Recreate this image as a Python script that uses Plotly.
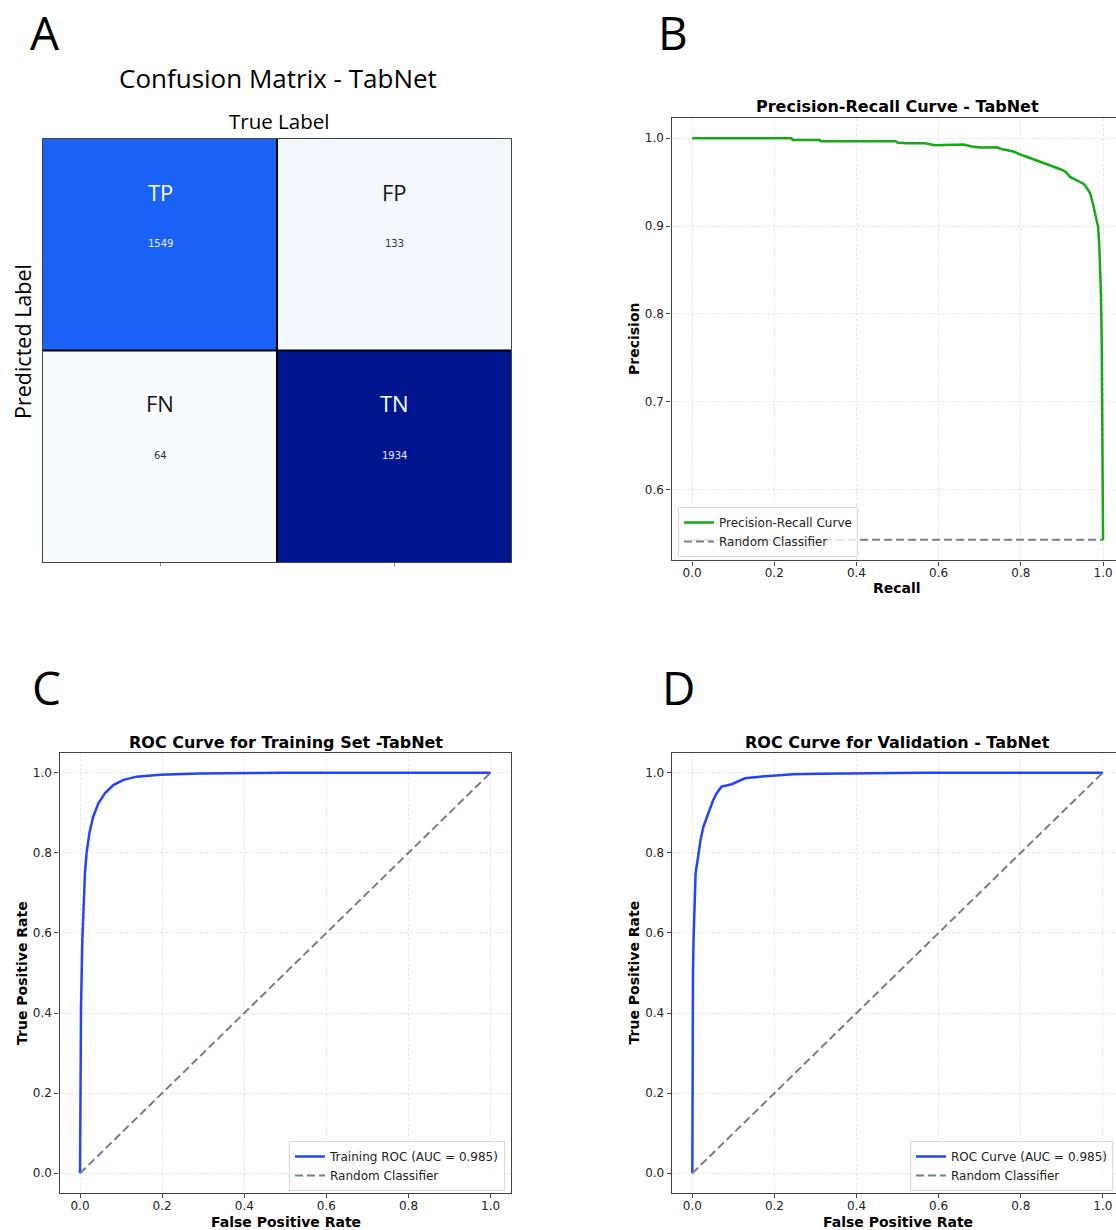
import plotly.graph_objects as go

W, H = 1116, 1230

# ---------------- data ----------------
cm_labels = [["TP", "FP"], ["FN", "TN"]]
cm_values = [[1549, 133], [64, 1934]]

pr_recall = [0.0, 0.242, 0.245, 0.311, 0.313, 0.352, 0.354, 0.42, 0.496, 0.499, 0.522, 0.567,
             0.591, 0.66, 0.681, 0.701, 0.742, 0.75, 0.782, 0.807, 0.831, 0.847, 0.872, 0.896,
             0.908, 0.920, 0.933, 0.953, 0.961, 0.969, 0.976, 0.981, 0.988, 0.991, 0.9935, 0.995,
             0.9967, 0.998, 0.999, 1.0]
pr_precision = [1.0, 1.0, 0.998, 0.998, 0.9966, 0.9966, 0.9958, 0.9962, 0.9965, 0.995, 0.9943, 0.9943,
                0.992, 0.9928, 0.9905, 0.9894, 0.9897, 0.988, 0.9848, 0.980, 0.976, 0.974, 0.969, 0.9647,
                0.962, 0.956, 0.9525, 0.948, 0.943, 0.937, 0.924, 0.9126, 0.899, 0.8765, 0.846, 0.82,
                0.77, 0.702, 0.649, 0.5423]
pr_baseline = 0.5429
baseline_x = [0.0, 1.0]

fpr_train = [0.0, 0.0016, 0.0024, 0.0057, 0.008, 0.012, 0.016, 0.023, 0.032, 0.045, 0.061, 0.081,
             0.106, 0.138, 0.195, 0.292, 0.5, 1.0]
tpr_train = [0.0, 0.25, 0.417, 0.583, 0.666, 0.75, 0.80, 0.85, 0.89, 0.924, 0.949, 0.969,
             0.982, 0.990, 0.995, 0.998, 0.9995, 1.0]

fpr_val = [0.0, 0.0005, 0.0016, 0.003, 0.005, 0.008, 0.014, 0.020, 0.027, 0.039, 0.051, 0.059,
           0.071, 0.096, 0.112, 0.128, 0.165, 0.206, 0.246, 0.311, 0.40, 0.555, 1.0]
tpr_val = [0.0, 0.25, 0.50, 0.583, 0.666, 0.749, 0.79, 0.832, 0.865, 0.899, 0.932, 0.948,
           0.965, 0.971, 0.978, 0.986, 0.99, 0.993, 0.996, 0.9975, 0.998, 1.0, 1.0]

diag = [0.0, 1.0]
ticks01 = [0.0, 0.2, 0.4, 0.6, 0.8, 1.0]
ticks_prec = [0.6, 0.7, 0.8, 0.9, 1.0]

# ---------------- helpers ----------------
def px(x):
    return x / W

def py(y):
    return 1 - y / H

MPL = "DejaVu Sans"
MYR = "Open Sans"
GREEN = "#17a817"
BLUE = "#2443ff"
GRAYD = "#708090"
SPINE = "#444444"
GRID = "#e8e8e8"

fig = go.Figure()

# ---- Panel A heatmap ----
vmin = min(min(r) for r in cm_values)
vmax = max(max(r) for r in cm_values)
def pos(v):
    return (v - vmin) / (vmax - vmin)
cscale = [[0.0, "#f7fbff"], [pos(133), "#f2f8fd"], [pos(1549), "#1a62f5"], [1.0, "#00168e"]]
fig.add_trace(go.Heatmap(z=cm_values, x=[0, 1], y=[0, 1], colorscale=cscale, showscale=False,
                         zmin=vmin, zmax=vmax, xaxis="x", yaxis="y", hoverinfo="skip"))

# ---- Panel B ----
fig.add_trace(go.Scatter(x=pr_recall, y=pr_precision, mode="lines", name="Precision-Recall Curve",
                         line=dict(color=GREEN, width=2.5), xaxis="x2", yaxis="y2", legend="legend"))
fig.add_trace(go.Scatter(x=baseline_x, y=[pr_baseline, pr_baseline], mode="lines", name="Random Classifier",
                         line=dict(color=GRAYD, width=2, dash="8px,4px"), xaxis="x2", yaxis="y2",
                         legend="legend"))

# ---- Panel C ----
fig.add_trace(go.Scatter(x=fpr_train, y=tpr_train, mode="lines", name="Training ROC (AUC = 0.985)",
                         line=dict(color=BLUE, width=2.5), xaxis="x3", yaxis="y3", legend="legend2"))
fig.add_trace(go.Scatter(x=diag, y=diag, mode="lines", name="Random Classifier",
                         line=dict(color=GRAYD, width=2, dash="8px,4px"), xaxis="x3", yaxis="y3",
                         legend="legend2"))

# ---- Panel D ----
fig.add_trace(go.Scatter(x=fpr_val, y=tpr_val, mode="lines", name="ROC Curve (AUC = 0.985)",
                         line=dict(color=BLUE, width=2.5), xaxis="x4", yaxis="y4", legend="legend3"))
fig.add_trace(go.Scatter(x=diag, y=diag, mode="lines", name="Random Classifier",
                         line=dict(color=GRAYD, width=2, dash="8px,4px"), xaxis="x4", yaxis="y4",
                         legend="legend3"))

def mpl_axis(domain, rng, tickvals, mirror, standoff=0):
    return dict(domain=domain, range=rng, tickvals=tickvals, ticktext=[f"{t:.1f}" for t in tickvals],
                showline=True, linecolor=SPINE, linewidth=1.3, mirror=mirror, ticks="outside",
                ticklen=4, tickwidth=1, tickcolor=SPINE, showgrid=True, gridcolor=GRID,
                griddash="3px,2px", gridwidth=1, zeroline=False, ticklabelstandoff=standoff,
                tickfont=dict(family=MPL, size=12, color="#222222"), fixedrange=True)

layout = dict(
    width=W, height=H, margin=dict(l=0, r=0, t=0, b=0),
    paper_bgcolor="white", plot_bgcolor="white", showlegend=True,
    xaxis=dict(domain=[px(43), px(511)], range=[-0.5, 1.5], showline=True, linecolor=SPINE, linewidth=1,
               mirror=True, ticks="outside", ticklen=3, tickcolor="#888888", tickvals=[0, 1],
               showticklabels=False, showgrid=False, zeroline=False),
    yaxis=dict(domain=[py(562), py(139)], range=[1.5, -0.5], showline=True, linecolor=SPINE, linewidth=1,
               mirror=True, ticks="", showticklabels=False, showgrid=False, zeroline=False),
    xaxis2=mpl_axis([px(671.5), 1.0], [-0.05, 1.0315], ticks01, True, -3),
    yaxis2=mpl_axis([py(560.4), py(118.1)], [0.5194, 1.0229], ticks_prec, False),
    xaxis3=mpl_axis([px(59.5), px(511.2)], [-0.05, 1.05], ticks01, True, -3),
    yaxis3=mpl_axis([py(1193.3), py(752.6)], [-0.05, 1.05], ticks01, True),
    xaxis4=mpl_axis([px(671.8), 1.0], [-0.05, 1.032], ticks01, True, -3),
    yaxis4=mpl_axis([py(1193.3), py(752.6)], [-0.05, 1.05], ticks01, False),
)
layout["yaxis2"]["anchor"] = "x2"
layout["xaxis2"]["anchor"] = "y2"
layout["yaxis3"]["anchor"] = "x3"
layout["xaxis3"]["anchor"] = "y3"
layout["yaxis4"]["anchor"] = "x4"
layout["xaxis4"]["anchor"] = "y4"

leg_common = dict(bgcolor="rgba(255,255,255,0.8)", bordercolor="#d9d9d9", borderwidth=1,
                  font=dict(family=MPL, size=12, color="#222222"), tracegroupgap=0,
                  itemwidth=30, xanchor="left", yanchor="bottom")
layout["legend"] = dict(leg_common, x=px(678), y=py(557))
layout["legend2"] = dict(leg_common, x=px(505), y=py(1191), xanchor="right")
layout["legend3"] = dict(leg_common, x=px(1113), y=py(1191), xanchor="right")

fig.update_layout(**layout)

# shapes: inner grid lines of the confusion matrix
fig.add_shape(type="line", xref="x", yref="y", x0=0.5, x1=0.5, y0=-0.5, y1=1.5,
              line=dict(color="black", width=2))
fig.add_shape(type="line", xref="x", yref="y", x0=-0.5, x1=1.5, y0=0.5, y1=0.5,
              line=dict(color="black", width=2))

ann = []
# cell annotations
for i in range(2):
    for j in range(2):
        dark = cm_values[i][j] > (vmin + vmax) / 2 or cm_values[i][j] == 1549
        ann.append(dict(x=j, y=i, xref="x", yref="y", text=cm_labels[i][j], showarrow=False,
                        yshift=53, font=dict(family=MYR, size=22, color="white" if dark else "#111111")))
        ann.append(dict(x=j, y=i, xref="x", yref="y", text=str(cm_values[i][j]), showarrow=False,
                        yshift=1, font=dict(family=MPL, size=10, color="#e8eeff" if dark else "#333333")))

def txt(x, y, s, size, family, angle=0, color="black"):
    ann.append(dict(x=px(x), y=py(y), xref="paper", yref="paper", text=s, showarrow=False,
                    xanchor="center", yanchor="middle", textangle=angle,
                    font=dict(family=family, size=size, color=color)))

# panel letters
txt(45, 32, "A", 46, MYR)
txt(673, 32, "B", 46, MYR)
txt(46, 687, "C", 46, MYR)
txt(678, 687, "D", 46, MYR)

# panel A titles
txt(278, 78, "Confusion Matrix - TabNet", 26, MYR)
txt(279, 121, "True Label", 20.5, MYR)
txt(22, 342, "Predicted Label", 21.5, MYR, angle=-90)

# panel B
txt(897.5, 106, "<b>Precision-Recall Curve - TabNet</b>", 16, MPL)
txt(897, 588, "<b>Recall</b>", 14, MPL)
txt(634, 339, "<b>Precision</b>", 14, MPL, angle=-90)

# panel C
txt(285.5, 742, "<b>ROC Curve for Training Set -TabNet</b>", 16, MPL)
txt(285.5, 1222, "<b>False Positive Rate</b>", 14, MPL)
txt(22, 973, "<b>True Positive Rate</b>", 14, MPL, angle=-90)

# panel D
txt(897.5, 742, "<b>ROC Curve for Validation - TabNet</b>", 16, MPL)
txt(897.7, 1222, "<b>False Positive Rate</b>", 14, MPL)
txt(633.5, 973, "<b>True Positive Rate</b>", 14, MPL, angle=-90)

fig.update_layout(annotations=ann)

fig.write_html("out.html", config={"displayModeBar": False},
               post_script="document.body.style.margin='0';document.body.style.overflow='hidden';")
